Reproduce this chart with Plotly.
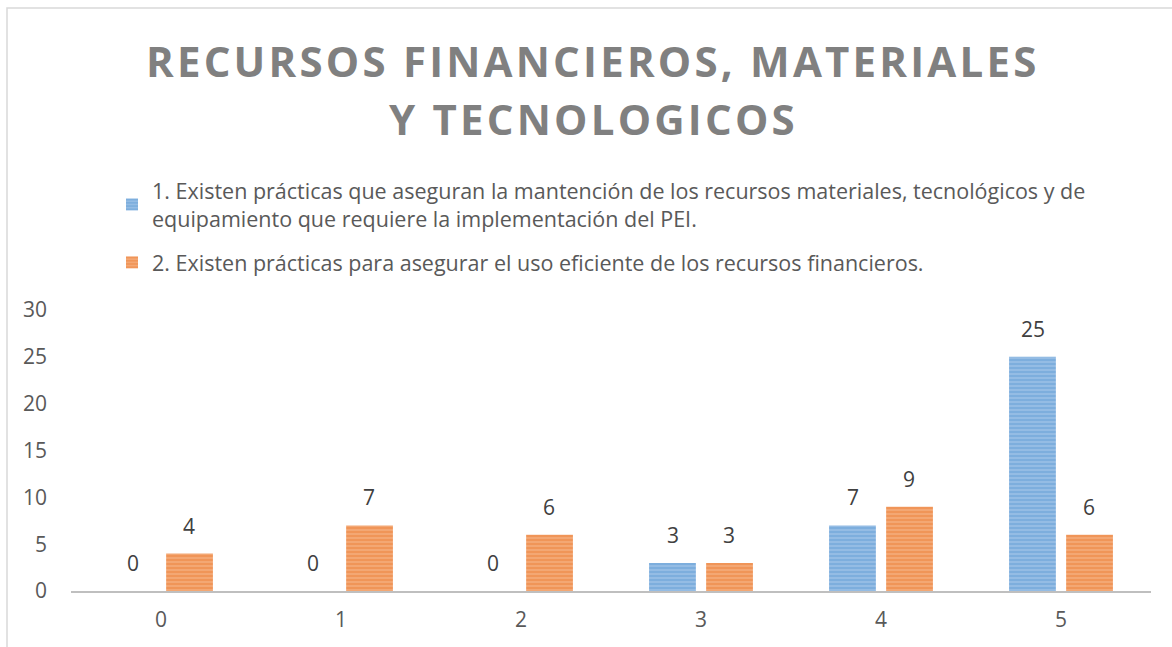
import plotly.graph_objects as go

categories = [0, 1, 2, 3, 4, 5]
series1_name = "1. Existen prácticas que aseguran la mantención de los recursos materiales, tecnológicos y de<br>equipamiento que requiere la implementación del PEI."
series2_name = "2. Existen prácticas para asegurar el uso eficiente de los recursos financieros."
series1_values = [0, 0, 0, 3, 7, 25]
series2_values = [4, 7, 6, 3, 9, 6]
y_ticks = [0, 5, 10, 15, 20, 25, 30]
title_lines = ["RECURSOS FINANCIEROS, MATERIALES", "Y TECNOLOGICOS"]

FONT = "Open Sans"
TEXT_COLOR = "#595959"
FS = 21

fig = go.Figure()
fig.add_trace(go.Bar(
    x=categories, y=series1_values, name=series1_name, legendgroup="g1",
    marker=dict(color="#A4C6E8", line=dict(width=0),
                pattern=dict(shape="-", fgcolor="#5596D2", bgcolor="#A4C6E8", size=4, solidity=0.7, fillmode="overlay")),
))
fig.add_trace(go.Bar(
    x=categories, y=series2_values, name=series2_name, legendgroup="g2",
    marker=dict(color="#F5B184", line=dict(width=0),
                pattern=dict(shape="-", fgcolor="#EC7A2C", bgcolor="#F5B184", size=4, solidity=0.7, fillmode="overlay")),
))

# data labels
off = 0.158
for vals, sign in ((series1_values, -1), (series2_values, 1)):
    for c, v in zip(categories, vals):
        fig.add_annotation(x=c + sign * off, y=v, text=str(v), showarrow=False,
                           yanchor="bottom", yshift=12,
                           font=dict(family=FONT, size=FS, color="#404040"))

L, R, T, B = 71, 21, 310, 56
W, H = 1172, 647
pw, ph = W - L - R, H - T - B

def px_x(px):
    return (px - L) / pw

def px_y(py):
    return (H - B - py) / ph

fig.add_shape(type="rect", xref="paper", yref="paper",
              x0=px_x(7), x1=px_x(1180), y0=px_y(655), y1=px_y(8),
              line=dict(color="#D9D9D9", width=1.5), fillcolor="rgba(0,0,0,0)", layer="below")

# title (two centred lines with letter spacing)
for line, cy in zip(title_lines, (60, 118)):
    fig.add_annotation(xref="paper", yref="paper", x=px_x(593), y=px_y(cy),
                       xanchor="center", yanchor="middle", showarrow=False,
                       text=f'<span style="letter-spacing:3.2px">{line}</span>',
                       font=dict(family="Open Sans", size=42, color="#808080", weight="bold"))

fig.update_layout(
    width=W, height=H,
    margin=dict(l=L, r=R, t=T, b=B),
    paper_bgcolor="white", plot_bgcolor="white",
    barmode="group", bargap=0.366, bargroupgap=0.18,
    showlegend=True,
    legend=dict(x=px_x(112), y=px_y(170), xanchor="left", yanchor="top",
                font=dict(family=FONT, size=21.5, color=TEXT_COLOR),
                bgcolor="rgba(0,0,0,0)", tracegroupgap=13, itemwidth=30,
                traceorder="grouped"),
    xaxis=dict(range=[-0.5, 5.5], tickvals=categories, ticktext=[str(c) for c in categories],
               showgrid=False, zeroline=False, showline=True, linecolor="#BFBFBF", linewidth=2,
               ticks="", tickfont=dict(family=FONT, size=FS, color=TEXT_COLOR),
               ticklabelstandoff=9, fixedrange=True),
    yaxis=dict(range=[0, 30], tickvals=y_ticks, showgrid=False, zeroline=False, showline=False,
               ticks="", tickfont=dict(family=FONT, size=FS, color=TEXT_COLOR),
               ticklabelstandoff=23, fixedrange=True),
)

fig.write_html("out.html", config={"displayModeBar": False},
               post_script="document.body.style.margin='0';document.documentElement.style.overflow='hidden';document.body.style.overflow='hidden';")
